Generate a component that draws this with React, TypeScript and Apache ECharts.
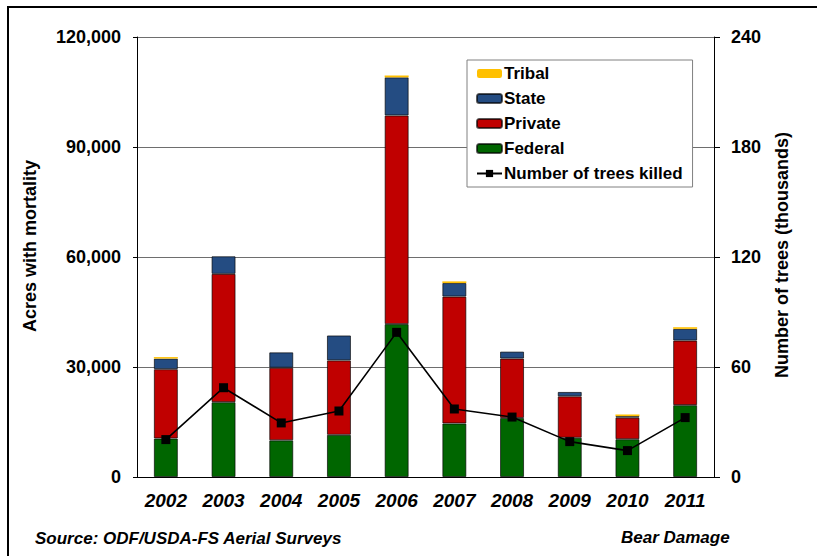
import React, { useEffect, useRef } from "react";
import * as echarts from "echarts";

const years = ["2002", "2003", "2004", "2005", "2006", "2007", "2008", "2009", "2010", "2011"];
const federal = [10500, 20400, 10000, 11500, 41700, 14600, 16100, 10700, 10300, 19600];
const privateLand = [18900, 35000, 19800, 20300, 56900, 34600, 16200, 11300, 5900, 17600];
const state = [2900, 4800, 4200, 6800, 10400, 3700, 1900, 1200, 400, 3200];
const tribal = [400, 0, 0, 0, 500, 450, 0, 0, 450, 450];
const treesKilled = [20.4, 48.7, 29.5, 36, 78.9, 37.1, 32.7, 19.3, 14.4, 32.4];

const FONT = 'Arial, "Liberation Sans", sans-serif';

export default function App() {
  const ref = useRef<HTMLDivElement>(null);
  useEffect(() => {
    if (!ref.current) return;
    const chart = echarts.init(ref.current, null, { renderer: "svg" });
    const barBorder = { borderColor: "rgba(0,0,0,0.65)", borderWidth: 1 };
    chart.setOption({
      animation: false,
      backgroundColor: "#fff",
      textStyle: { fontFamily: FONT },
      grid: { left: 137, right: 103, top: 37, bottom: 79 },
      legend: {
        left: 467,
        top: 60,
        orient: "vertical",
        padding: [5, 10, 5, 9],
        borderColor: "#808080",
        borderWidth: 1,
        backgroundColor: "#fff",
        itemWidth: 25,
        itemHeight: 9,
        itemGap: 8,
        data: ["Tribal", "State", "Private", "Federal", "Number of trees killed"],
        textStyle: { fontSize: 17, fontWeight: "bold", color: "#000", fontFamily: FONT, padding: [0, 0, 0, -3] },
      },
      xAxis: {
        type: "category",
        data: years,
        axisLine: { lineStyle: { color: "#000", width: 1 } },
        axisTick: { length: 5, lineStyle: { color: "#000" } },
        axisLabel: { margin: 14, fontSize: 19, fontWeight: "bold", fontStyle: "italic", color: "#000", fontFamily: FONT },
      },
      yAxis: [
        {
          type: "value",
          min: 0,
          max: 120000,
          interval: 30000,
          axisLine: { show: true, lineStyle: { color: "#000", width: 1 } },
          axisTick: { show: true, length: 4, lineStyle: { color: "#000" } },
          splitLine: { show: true, lineStyle: { color: "#6e6e6e", width: 1 } },
          axisLabel: {
            margin: 16,
            fontSize: 18,
            fontWeight: "bold",
            color: "#000",
            fontFamily: FONT,
            formatter: (v: number) => v.toLocaleString("en-US"),
          },
        },
        {
          type: "value",
          min: 0,
          max: 240,
          interval: 60,
          position: "right",
          axisLine: { show: true, lineStyle: { color: "#000", width: 1 } },
          axisTick: { show: true, length: 6, lineStyle: { color: "#000" } },
          splitLine: { show: false },
          axisLabel: { margin: 17, fontSize: 18, fontWeight: "bold", color: "#000", fontFamily: FONT },
        },
      ],
      series: [
        { name: "Federal", type: "bar", stack: "acres", barWidth: 24, data: federal, itemStyle: { color: "#006600", ...barBorder } },
        { name: "Private", type: "bar", stack: "acres", barWidth: 24, data: privateLand, itemStyle: { color: "#C00000", ...barBorder } },
        { name: "State", type: "bar", stack: "acres", barWidth: 24, data: state, itemStyle: { color: "#244C82", ...barBorder } },
        { name: "Tribal", type: "bar", stack: "acres", barWidth: 24, data: tribal, itemStyle: { color: "#FFC000", borderWidth: 0 } },
        {
          name: "Number of trees killed",
          type: "line",
          yAxisIndex: 1,
          data: treesKilled,
          symbol: "rect",
          symbolSize: 9,
          lineStyle: { color: "#000", width: 1.6 },
          itemStyle: { color: "#000" },
          z: 5,
        },
      ],
      graphic: [
        {
          type: "rect",
          shape: { x: 8, y: 7, width: 900, height: 700 },
          style: { fill: "none", stroke: "#000", lineWidth: 2 },
          silent: true,
        },
        {
          type: "text",
          x: 30,
          y: 246,
          rotation: Math.PI / 2,
          style: { text: "Acres with mortality", fontSize: 18, fontWeight: "bold", fill: "#000", fontFamily: FONT, align: "center", verticalAlign: "middle" },
        },
        {
          type: "text",
          x: 782,
          y: 255,
          rotation: Math.PI / 2,
          style: { text: "Number of trees (thousands)", fontSize: 18, fontWeight: "bold", fill: "#000", fontFamily: FONT, align: "center", verticalAlign: "middle" },
        },
        {
          type: "text",
          x: 35,
          y: 538,
          style: { text: "Source: ODF/USDA-FS Aerial Surveys", fontSize: 17, fontWeight: "bold", fontStyle: "italic", fill: "#000", fontFamily: FONT, align: "left", verticalAlign: "middle" },
        },
        {
          type: "text",
          x: 621,
          y: 537,
          style: { text: "Bear Damage", fontSize: 17, fontWeight: "bold", fontStyle: "italic", fill: "#000", fontFamily: FONT, align: "left", verticalAlign: "middle" },
        },
      ],
    });
    return () => chart.dispose();
  }, []);
  return <div ref={ref} style={{ position: "absolute", left: 0, top: 0, width: 817, height: 556 }} />;
}
